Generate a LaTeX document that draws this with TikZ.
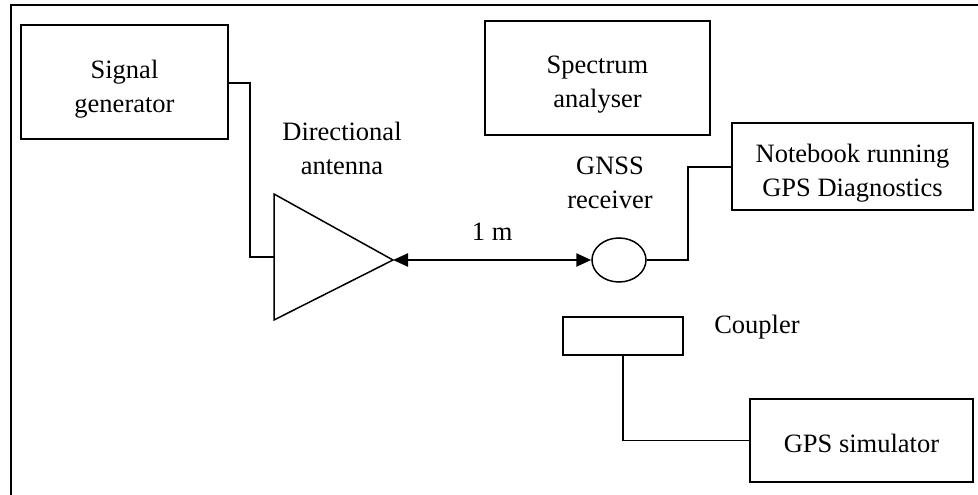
\documentclass[tikz,border=0pt]{standalone}
\usepackage{fontspec}
\setmainfont{Liberation Serif}
\usetikzlibrary{shapes.geometric,arrows.meta}

\tikzset{device/.style={draw, line width=1.5pt, inner sep=0pt},
    device text/.style={align=center, inner sep=0pt},
    box text/.style={device text, yshift=-7pt},
    wire/.style={line width=1.5pt},
    range arrow/.style={line width=2.5pt, {Triangle[length=15pt,width=13pt]}-{Triangle[length=15pt,width=13pt]}},
    frame line/.style={line width=2pt},
}

\begin{document}
\begin{tikzpicture}[x=1pt, y=-1pt, font=\fontsize{26.5}{34}\selectfont]
	\useasboundingbox (0, 0) rectangle (978, 495);

	% frame
	\draw[frame line] (11, 495) -- (11, 5) -- (978, 5);

	% instruments
	\node[device, minimum width=207pt, minimum height=114pt, label={[box text]center:Signal\\generator}] (siggen) at (124.5, 82) {};
	\node[device, minimum width=225pt, minimum height=114pt, label={[box text]center:Spectrum\\analyser}] (specan) at (597.5, 78) {};
	\node[device, minimum width=241pt, minimum height=87pt, label={[box text]center:Notebook running\\GPS Diagnostics}] (notebook) at (852.5, 166.5) {};
	\node[device, minimum width=120pt, minimum height=38pt] (coupler) at (623, 336) {};
	\node[device, minimum width=223pt, minimum height=83pt, label={[box text, yshift=4pt]center:GPS simulator}] (gpssim) at (861.5, 440.5) {};
	\node[device, ellipse, minimum width=54pt, minimum height=44pt] (receiver) at (619, 260) {};

	% antenna
	\coordinate (ant top) at (274, 194);
	\coordinate (ant bottom) at (274, 320);
	\coordinate (ant feed) at (274, 257);
	\coordinate (ant tip) at (393, 260);
	\draw[wire, line join=miter] (ant top) -- (ant tip) -- (ant bottom) -- cycle;

	% labels
	\node[device text] (antlabel) at (342, 148) {Directional\\antenna};
	\node[device text] (rxlabel) at (610, 183) {GNSS\\receiver};
	\node[device text] (couplerlabel) at (757, 327) {Coupler};

	% connections
	\draw[wire] (siggen.east |- 0, 83) -| (250, 257) -- (ant feed);
	\draw[range arrow] (ant tip) -- node[device text, above=18pt] (dist) {1 m} (receiver.west);
	\draw[wire] (receiver.east) -| (688, 167) -- (notebook.west |- 0, 167);
	\draw[wire] (coupler.south) |- (gpssim.west);
\end{tikzpicture}
\end{document}
